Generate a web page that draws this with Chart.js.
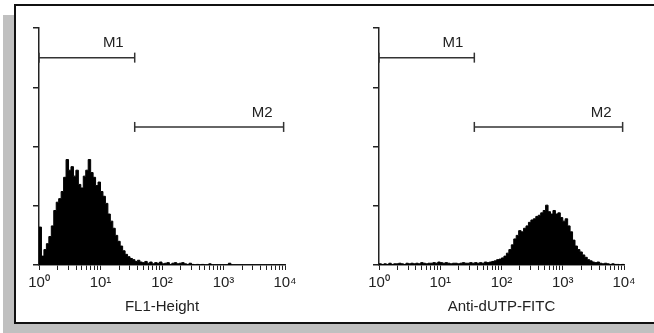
<!DOCTYPE html>
<html>
<head>
<meta charset="utf-8">
<script src="https://cdn.jsdelivr.net/npm/chart.js@4.4.1/dist/chart.umd.min.js"></script>
<style>
  html, body { margin: 0; padding: 0; background: #fff; }
  body { width: 654px; height: 333px; position: relative; overflow: hidden; }
  #shadow { position: absolute; left: 3px; top: 15px; width: 700px; height: 330px; background: #c0c0c0; }
  #frame { position: absolute; left: 14px; top: 4px; width: 700px; height: 316px; border: 2px solid #111; background: #fff; }
  .plot { position: absolute; top: 0; width: 327px; height: 333px; }
</style>
</head>
<body>
<div id="shadow"></div>
<div id="frame"></div>
<div class="plot" style="left:0"><canvas id="chartLeft"></canvas></div>
<div class="plot" style="left:327px"><canvas id="chartRight"></canvas></div>
<script>
// log x axis: 4 decades, 25 channels per decade
let decadeTicks = [1, 10, 100, 1000, 10000];
let tickLabels = ["10\u2070", "10\u00b9", "10\u00b2", "10\u00b3", "10\u2074"];
let binsPerDecade = 25;
let countTicks = [0, 100, 200, 300, 400];

// control (FL1-Height)
let fl1Counts = [
  64, 15, 26, 36, 48, 66, 92, 106, 112, 124,
  148, 178, 160, 166, 150, 160, 136, 130, 150, 160,
  178, 156, 148, 134, 140, 124, 116, 104, 86, 74,
  62, 50, 40, 32, 24, 18, 14, 11, 9, 6,
  8, 5, 4, 6, 3, 5, 2, 4, 3, 5,
  2, 3, 4, 1, 3, 4, 2, 3, 4, 2,
  1, 3, 1, 0, 1, 0, 1, 0, 0, 2,
  0, 0, 0, 0, 0, 0, 0, 3, 0, 0,
  0, 0, 0, 0, 0, 0, 0, 0, 0, 0,
  0, 0, 0, 0, 0, 0, 0, 0, 0, 0,
];

// stained (Anti-dUTP-FITC)
let dutpCounts = [
  2, 1, 2, 1, 3, 1, 2, 2, 3, 2,
  1, 3, 2, 3, 2, 3, 2, 4, 3, 2,
  3, 3, 4, 3, 5, 4, 3, 4, 3, 2,
  3, 3, 2, 3, 4, 3, 3, 4, 3, 4,
  3, 4, 3, 5, 4, 5, 6, 7, 9, 10,
  12, 15, 20, 26, 34, 44, 50, 58, 56, 62,
  66, 72, 76, 78, 82, 84, 88, 92, 101, 90,
  86, 92, 86, 88, 80, 74, 78, 66, 56, 42,
  32, 26, 22, 17, 13, 9, 7, 5, 4, 5,
  3, 2, 3, 2, 1, 2, 1, 1, 0, 1,
];

let markerNames = ["M1", "M2"];
let markerRanges = [[1, 36], [36, 9500]];
let markerLevels = [350, 233];
let axisTitles = ["FL1-Height", "Anti-dUTP-FITC"];

Chart.defaults.font.family = '"Liberation Sans", Arial, sans-serif';
Chart.defaults.color = "#222";

// writes M1 / M2 above the right end of each marker bar
const markerLabels = {
  id: "markerLabels",
  afterDatasetsDraw(chart) {
    let ctx = chart.ctx;
    ctx.save();
    ctx.font = '15px "Liberation Sans", Arial, sans-serif';
    ctx.fillStyle = "#222";
    ctx.textAlign = "right";
    ctx.textBaseline = "bottom";
    chart.data.datasets.forEach((ds, i) => {
      if (!ds.tag) return;
      let pts = chart.getDatasetMeta(i).data;
      let end = pts[pts.length - 1];
      ctx.fillText(ds.tag, end.x - 11, end.y - 7);
    });
    ctx.restore();
  },
};

function makeChart(id, counts, title, padLeft, padRight) {
  let points = counts.map((c, i) => ({ x: Math.pow(10, i / binsPerDecade), y: c }));
  points.push({ x: 10000, y: counts[counts.length - 1] });

  let datasets = [
    {
      data: points,
      stepped: true,
      fill: "origin",
      backgroundColor: "#000",
      borderColor: "#000",
      borderWidth: 1,
      pointRadius: 0,
    },
  ];
  markerNames.forEach((name, m) => {
    datasets.push({
      tag: name,
      data: [
        { x: markerRanges[m][0], y: markerLevels[m] },
        { x: markerRanges[m][1], y: markerLevels[m] },
      ],
      borderColor: "#333",
      borderWidth: 1.5,
      fill: false,
      pointStyle: "line",
      rotation: 90,
      pointRadius: 5,
      pointBorderWidth: 1.5,
      pointBorderColor: "#333",
      clip: false,
    });
  });

  return new Chart(document.getElementById(id), {
    type: "line",
    data: { datasets: datasets },
    options: {
      responsive: true,
      maintainAspectRatio: false,
      animation: false,
      layout: { padding: { left: padLeft, right: padRight, top: 28, bottom: 0 } },
      plugins: { legend: { display: false }, tooltip: { enabled: false } },
      scales: {
        x: {
          type: "logarithmic",
          min: 1,
          max: 10000,
          afterBuildTicks: (scale) => {
            let t = [];
            decadeTicks.forEach((d) => {
              if (d === 10000) {
                t.push({ value: d });
                return;
              }
              for (let k = 1; k < 10; k++) t.push({ value: d * k });
            });
            scale.ticks = t;
          },
          afterFit: (scale) => {
            scale.height = 68;
          },
          border: { display: true, color: "#222", width: 1.5 },
          grid: { display: true, drawOnChartArea: false, drawTicks: true, tickLength: 5, color: "#222", lineWidth: 1 },
          ticks: {
            autoSkip: false,
            maxRotation: 0,
            padding: 4,
            font: { size: 15 },
            color: "#222",
            callback: (v) => {
              let idx = decadeTicks.indexOf(v);
              return idx >= 0 ? tickLabels[idx] : "";
            },
          },
          title: {
            display: true,
            text: title,
            font: { size: 15 },
            color: "#222",
            padding: { top: 0, bottom: 17 },
          },
        },
        y: {
          min: 0,
          max: 400,
          afterBuildTicks: (scale) => {
            scale.ticks = countTicks.map((v) => ({ value: v }));
          },
          afterFit: (scale) => {
            scale.width = 6;
          },
          border: { display: true, color: "#222", width: 1.5 },
          grid: { display: true, drawOnChartArea: false, drawTicks: true, tickLength: 6, color: "#222", lineWidth: 1.5 },
          ticks: { display: false },
        },
      },
    },
    plugins: [markerLabels],
  });
}

makeChart("chartLeft", fl1Counts, axisTitles[0], 33, 42);
makeChart("chartRight", dutpCounts, axisTitles[1], 46, 30);
</script>
</body>
</html>
